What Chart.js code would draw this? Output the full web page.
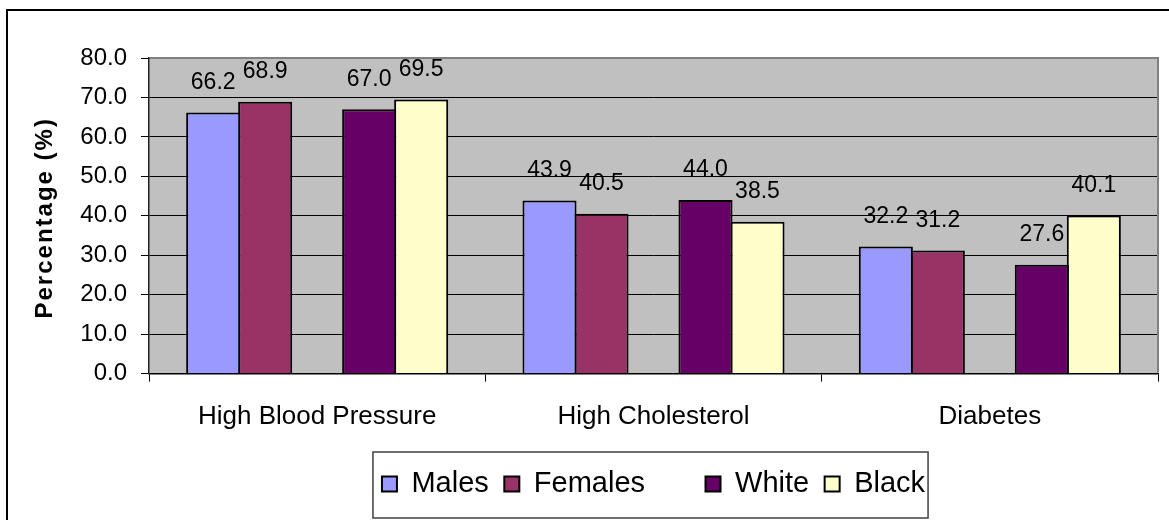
<!DOCTYPE html>
<html>
<head>
<meta charset="utf-8">
<script src="https://cdn.jsdelivr.net/npm/chart.js@4.4.1/dist/chart.umd.min.js"></script>
<style>
  html, body { margin: 0; padding: 0; background: #ffffff; }
  canvas { display: block; }
</style>
</head>
<body>
<canvas id="chart" width="1169" height="520"></canvas>
<script>
// Prevalence by group, in percent
const categories = ['High Blood Pressure', 'High Cholesterol', 'Diabetes'];
const males   = [66.2, 43.9, 32.2];
const females = [68.9, 40.5, 31.2];
const spacer  = [null, null, null];   // blank series that separates sex from race
const white   = [67.0, 44.0, 27.6];
const black   = [69.5, 38.5, 40.1];
const yAxisTitle = 'Percentage (%)';
const yMin = 0, yMax = 80, yStep = 10;

const FONT = '"Liberation Sans", Arial, Helvetica, sans-serif';

// Grey plot area, outer frame and legend frame
const framePlugin = {
  id: 'frames',
  beforeDraw(chart) {
    const { ctx, chartArea: a } = chart;
    ctx.save();
    ctx.fillStyle = '#C0C0C0';
    ctx.fillRect(a.left, a.top, a.right - a.left, a.bottom - a.top);
    ctx.restore();
  },
  afterDraw(chart) {
    const { ctx, chartArea: a } = chart;
    ctx.save();
    // plot border (top and right)
    ctx.strokeStyle = '#808080';
    ctx.lineWidth = 2;
    ctx.beginPath();
    ctx.moveTo(a.left + 1, a.top);
    ctx.lineTo(a.right, a.top);
    ctx.lineTo(a.right, a.bottom - 1);
    ctx.stroke();
    // outer chart frame
    ctx.strokeStyle = '#000000';
    ctx.lineWidth = 2;
    ctx.strokeRect(7, 10, 1300, 700);
    // legend frame
    const boxes = chart.legend.legendHitBoxes;
    if (boxes && boxes.length) {
      const first = boxes[0], last = boxes[boxes.length - 1];
      const l = first.left - 9;
      const r = last.left + last.width + 3;
      const t = first.top - 17.5;
      const b = first.top + first.height + 19.5;
      ctx.strokeStyle = '#404040';
      ctx.lineWidth = 1.5;
      ctx.strokeRect(l, t, r - l, b - t);
    }
    // rotated, letter-spaced axis title
    ctx.translate(45, (a.top + a.bottom) / 2 + 2);
    ctx.rotate(-Math.PI / 2);
    ctx.font = 'bold 24px ' + FONT;
    ctx.letterSpacing = '2px';
    ctx.fillStyle = '#000000';
    ctx.textAlign = 'center';
    ctx.textBaseline = 'middle';
    ctx.fillText(yAxisTitle, 0, 0);
    ctx.restore();
  }
};

// Value labels above each bar
const valueLabels = {
  id: 'valueLabels',
  afterDatasetsDraw(chart) {
    const { ctx } = chart;
    ctx.save();
    ctx.font = '23px ' + FONT;
    ctx.fillStyle = '#000000';
    ctx.textAlign = 'center';
    ctx.textBaseline = 'middle';
    chart.data.datasets.forEach((ds, i) => {
      const meta = chart.getDatasetMeta(i);
      meta.data.forEach((bar, j) => {
        const v = ds.data[j];
        if (v === null || v === undefined) return;
        ctx.fillText(v.toFixed(1), bar.x, bar.y - 30);
      });
    });
    ctx.restore();
  }
};

const barStyle = { borderColor: '#000000', borderWidth: 2, barPercentage: 1.04, categoryPercentage: 0.773 };

new Chart(document.getElementById('chart'), {
  type: 'bar',
  data: {
    labels: categories,
    datasets: [
      { label: 'Males',   data: males,   backgroundColor: '#9999FF', ...barStyle },
      { label: 'Females', data: females, backgroundColor: '#993366', ...barStyle },
      { label: '',        data: spacer,  backgroundColor: 'rgba(0,0,0,0)', ...barStyle, borderColor: 'rgba(0,0,0,0)', borderWidth: 0 },
      { label: 'White',   data: white,   backgroundColor: '#660066', ...barStyle },
      { label: 'Black',   data: black,   backgroundColor: '#FFFFCC', ...barStyle }
    ]
  },
  options: {
    responsive: false,
    animation: false,
    devicePixelRatio: 1,
    layout: { padding: { left: 66.3, right: 11, top: 58, bottom: 11.5 } },
    plugins: {
      tooltip: { enabled: false },
      legend: {
        position: 'bottom',
        fullSize: false,
        title: { display: true, text: '', font: { size: 2 }, padding: 0 },
        labels: {
          color: '#000000',
          font: { family: FONT, size: 29 },
          boxWidth: 15,
          boxHeight: 15,
          padding: 15.5
        }
      }
    },
    scales: {
      x: {
        grid: { display: true, drawOnChartArea: false, drawTicks: true, tickLength: 8, color: '#000000', lineWidth: 1 },
        border: { display: true, color: '#000000', width: 1.5 },
        ticks: { color: '#000000', font: { family: FONT, size: 26 }, padding: 19.4, maxRotation: 0 }
      },
      y: {
        min: yMin,
        max: yMax,
        grid: { color: '#000000', lineWidth: 1, tickLength: 8 },
        border: { display: true, color: '#202020', width: 1.5 },
        ticks: {
          stepSize: yStep,
          color: '#000000',
          font: { family: FONT, size: 24 },
          padding: 14,
          callback: v => Number(v).toFixed(1)
        }
      }
    }
  },
  plugins: [framePlugin, valueLabels]
});
</script>
</body>
</html>
